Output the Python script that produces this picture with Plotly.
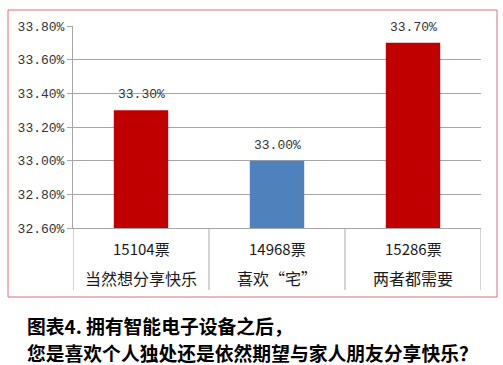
import plotly.graph_objects as go

categories = ["当然想分享快乐", "喜欢“宅”", "两者都需要"]
votes = ["15104票", "14968票", "15286票"]
values = [33.30, 33.00, 33.70]
colors = ["#C00000", "#4F81BD", "#C00000"]
y_ticks = [32.6, 32.8, 33.0, 33.2, 33.4, 33.6, 33.8]
title_lines = ["图表4. 拥有智能电子设备之后，", "您是喜欢个人独处还是依然期望与家人朋友分享快乐？"]

W, H = 503, 365
L, R, T, B = 73, 22, 26, 137
pw, ph = W - L - R, H - T - B

def px(x):
    return (x - L) / pw

def py(y):
    return (H - B - y) / ph

cjk = "Noto Sans CJK SC"
mono = "Liberation Mono"
xs = list(range(len(categories)))

fig = go.Figure()
fig.add_trace(go.Bar(x=xs, y=values, marker=dict(color=colors, line=dict(width=0)),
                     width=0.4, hoverinfo="skip"))

ann = []
for i, v in enumerate(values):
    ann.append(dict(x=i, y=v, xref="x", yref="y", text=f"{v:.2f}%", showarrow=False,
                    yanchor="bottom", yshift=6, font=dict(family=mono, size=13, color="#333333")))
    ann.append(dict(x=i, y=py(248), xref="x", yref="paper", text=votes[i], showarrow=False,
                    yanchor="middle", font=dict(family=cjk, size=15, color="#1a1a1a")))
    ann.append(dict(x=i, y=py(278), xref="x", yref="paper", text=categories[i], showarrow=False,
                    yanchor="middle", font=dict(family=cjk, size=16, color="#1a1a1a")))
for j, t in enumerate(title_lines):
    ann.append(dict(x=px(25), y=py(325 + 27 * j), xref="paper", yref="paper", text=f"<b>{t}</b>",
                    showarrow=False, xanchor="left", yanchor="middle",
                    font=dict(family=cjk, size=18.8, color="#000000")))

shapes = []
for k in range(len(categories) + 1):
    shapes.append(dict(type="line", xref="x", yref="paper", x0=k - 0.5, x1=k - 0.5,
                       y0=0, y1=py(290), line=dict(color="#A6A6A6", width=1)))
shapes.append(dict(type="rect", xref="paper", yref="paper", x0=px(8), x1=px(497),
                   y0=py(297), y1=py(10), line=dict(color="#E07070", width=1)))

fig.update_layout(
    width=W, height=H, margin=dict(l=L, r=R, t=T, b=B),
    paper_bgcolor="white", plot_bgcolor="white", showlegend=False,
    annotations=ann, shapes=shapes,
    xaxis=dict(range=[-0.5, 2.5], showticklabels=False, showgrid=False, zeroline=False,
               showline=True, linecolor="#A6A6A6", linewidth=1, ticks=""),
    yaxis=dict(range=[32.6, 33.8], tickvals=y_ticks, ticktext=[f"{t:.2f}%" for t in y_ticks],
               showgrid=True, gridcolor="#A6A6A6", gridwidth=1, zeroline=False,
               showline=True, linecolor="#A6A6A6", linewidth=1,
               ticks="outside", ticklen=5, tickcolor="#A6A6A6",
               tickfont=dict(family=mono, size=13, color="#333333")),
)
fig.write_html("out.html", config={"displayModeBar": False},
               post_script="document.body.style.margin='0';document.body.style.overflow='hidden';")
